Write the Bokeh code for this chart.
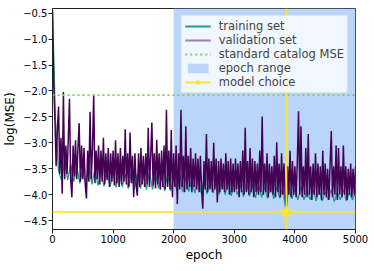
from bokeh.plotting import figure
from bokeh.models import Range1d, FixedTicker, Span, Legend, LegendItem
from bokeh.embed import file_html
from bokeh.resources import INLINE

# ---- data ----
val_epochs = list(range(0, 5001, 20))
val_logmse = [
    -0.45, -1.85, -2.55, -3.45, -2.75, -2.30, -3.60, -2.90, -3.98, -2.02,
    -3.70, -3.05, -3.60, -2.95, -2.15, -3.70, -4.05, -3.05, -3.65, -2.95,
    -3.70, -3.10, -2.62, -3.75, -3.05, -3.70, -3.10, -3.80, -4.07, -3.15,
    -3.75, -2.40, -3.70, -3.10, -2.07, -3.78, -3.15, -3.70, -3.05, -3.80,
    -3.15, -3.75, -2.90, -3.80, -3.20, -3.72, -3.10, -3.85, -3.20, -3.75,
    -3.15, -3.82, -2.95, -3.78, -3.20, -3.85, -3.10, -3.80, -3.25, -3.75,
    -2.74, -3.80, -3.20, -3.85, -2.80, -3.78, -3.25, -4.05, -3.20, -3.80,
    -4.02, -3.20, -3.85, -3.10, -3.80, -3.25, -3.85, -3.20, -3.80, -2.71,
    -3.85, -3.25, -2.61, -3.82, -3.20, -3.88, -2.94, -3.80, -3.20, -3.90,
    -3.15, -3.85, -3.05, -3.90, -2.36, -3.85, -3.15, -3.90, -2.75, -4.05,
    -3.20, -3.85, -3.05, -4.18, -3.20, -3.90, -2.36, -3.85, -3.25, -3.95,
    -2.68, -3.90, -3.25, -3.85, -3.10, -3.95, -3.30, -3.85, -3.20, -3.90,
    -3.30, -3.95, -3.25, -3.90, -4.27, -3.35, -3.90, -2.83, -3.95, -3.30,
    -3.90, -3.35, -3.95, -3.00, -3.90, -3.30, -4.15, -3.35, -3.95, -3.30,
    -3.90, -3.40, -3.95, -3.20, -3.90, -3.35, -4.00, -3.30, -3.95, -3.40,
    -3.95, -3.30, -3.90, -3.40, -4.05, -3.35, -3.95, -3.15, -4.00, -2.71,
    -3.95, -3.35, -4.00, -3.10, -3.95, -3.30, -4.05, -3.35, -3.95, -3.40,
    -4.00, -3.15, -3.95, -2.49, -4.00, -3.40, -3.95, -3.20, -4.05, -3.40,
    -3.95, -3.45, -4.00, -3.25, -4.05, -2.99, -3.95, -3.40, -4.05, -3.20,
    -4.00, -3.40, -4.05, -4.25, -3.45, -4.00, -3.15, -4.05, -3.35, -4.00,
    -3.45, -4.05, -3.35, -2.39, -4.00, -2.68, -4.05, -3.45, -4.00, -3.10,
    -4.05, -2.83, -4.00, -3.45, -4.10, -3.40, -4.00, -3.20, -4.05, -3.40,
    -4.00, -3.45, -4.10, -3.15, -4.00, -3.40, -4.05, -3.50, -4.10, -3.45,
    -2.77, -4.05, -3.45, -4.00, -3.05, -4.10, -3.10, -4.00, -3.45, -4.05,
    -3.05, -4.00, -3.45, -4.10, -3.50, -4.00, -3.40, -4.05, -3.50, -4.00,
    -3.45,
]

train_epochs = list(range(0, 5001, 50))
train_logmse = [
    -0.45, -2.60, -3.55, -3.72, -3.35, -3.72, -3.40, -3.75, -3.45, -3.78,
    -3.50, -3.80, -3.45, -3.80, -3.50, -3.82, -3.55, -3.84, -3.50, -3.85,
    -3.55, -3.86, -3.50, -3.85, -3.60, -3.88, -3.55, -3.90, -3.60, -3.88,
    -3.60, -3.90, -3.55, -3.90, -3.60, -3.88, -3.65, -3.92, -3.60, -3.93,
    -3.65, -3.93, -3.60, -3.95, -3.65, -3.94, -3.70, -3.97, -3.65, -3.96,
    -3.70, -3.99, -3.70, -3.97, -3.75, -4.00, -3.70, -4.00, -3.75, -4.02,
    -3.75, -4.00, -3.80, -4.04, -3.75, -4.03, -3.80, -4.06, -3.80, -4.05,
    -3.85, -4.07, -3.80, -4.08, -3.85, -4.07, -3.85, -4.30, -3.85, -4.08,
    -3.90, -4.10, -3.85, -4.10, -3.90, -4.10, -3.90, -4.12, -3.90, -4.12,
    -3.95, -4.10, -3.90, -4.13, -3.95, -4.10, -3.90, -4.12, -3.95, -4.10,
    -3.95,
]

catalog_mse_log = -2.08
epoch_range = [2000, 5000]
model_epoch = 3860
model_logmse = -4.33

x_min, x_max = 0, 5000
y_min, y_max = -4.67, -0.41
y_ticks = [-4.5, -4.0, -3.5, -3.0, -2.5, -2.0, -1.5, -1.0, -0.5]
x_ticks = [0, 1000, 2000, 3000, 4000, 5000]

FONT = "DejaVu Sans"
C_TRAIN = "#1f9e89"
C_VAL = "#440154"
C_VAL_LEG = "#a07faa"
C_CAT = "#7ad151"
C_RANGE = "#b9d5fa"
C_MODEL = "#fde725"
NAN = float("nan")

p = figure(width=370, height=264, output_backend="svg", toolbar_location=None,
           x_range=Range1d(x_min, x_max), y_range=Range1d(y_min, y_max),
           min_border_left=52, min_border_right=15, min_border_top=8,
           min_border_bottom=29)
p.xgrid.visible = False
p.ygrid.visible = False
p.outline_line_color = "#222222"
p.outline_line_width = 1
p.background_fill_color = "white"

r_range = p.quad(left=[epoch_range[0]], right=[epoch_range[1]],
                 bottom=[y_min], top=[y_max], fill_color=C_RANGE,
                 line_color=None)
p.line(train_epochs, train_logmse, line_color=C_TRAIN, line_width=1.3)
p.line(val_epochs, val_logmse, line_color=C_VAL, line_width=1.5)
p.line([x_min, x_max], [catalog_mse_log, catalog_mse_log],
       line_color=C_CAT, line_width=1.7, line_dash="2 3")

p.add_layout(Span(location=model_epoch, dimension="height",
                  line_color=C_MODEL, line_width=1.8))
p.add_layout(Span(location=model_logmse, dimension="width",
                  line_color=C_MODEL, line_width=1.8))
p.scatter([model_epoch], [model_logmse], marker="star", size=13,
          fill_color=C_MODEL, line_color=C_MODEL)

# legend-only renderers (NaN data, nothing drawn in the plot)
l_train = p.line([NAN], [NAN], line_color=C_TRAIN, line_width=2)
l_val = p.line([NAN], [NAN], line_color=C_VAL_LEG, line_width=2)
l_cat = p.line([NAN], [NAN], line_color=C_CAT, line_width=2, line_dash="2 3")
l_model = p.line([NAN], [NAN], line_color=C_MODEL, line_width=2)
l_star = p.scatter([NAN], [NAN], marker="star", size=12, fill_color=C_MODEL,
                   line_color=C_MODEL)

for ax in (p.xaxis[0], p.yaxis[0]):
    ax.major_label_text_font = FONT
    ax.major_label_text_font_size = "10px"
    ax.major_label_text_color = "black"
    ax.axis_label_text_font = FONT
    ax.axis_label_text_font_size = "12px"
    ax.axis_label_text_font_style = "normal"
    ax.axis_label_text_color = "black"
    ax.axis_line_color = "#222222"
    ax.major_tick_line_color = "#222222"
    ax.major_tick_out = 4
    ax.major_tick_in = 0
    ax.minor_tick_line_color = None
    ax.major_label_standoff = 1

p.xaxis.ticker = FixedTicker(ticks=x_ticks)
p.yaxis.ticker = FixedTicker(ticks=y_ticks)
p.yaxis.major_label_overrides = {t: ("\u2212%.1f" % abs(t)) for t in y_ticks}
p.xaxis.axis_label = "epoch"
p.yaxis.axis_label = "log(MSE)"
p.xaxis.axis_label_standoff = 2
p.yaxis.axis_label_standoff = 3

legend = Legend(items=[
    LegendItem(label="training set", renderers=[l_train]),
    LegendItem(label="validation set", renderers=[l_val]),
    LegendItem(label="standard catalog MSE", renderers=[l_cat]),
    LegendItem(label="epoch range", renderers=[r_range]),
    LegendItem(label="model choice", renderers=[l_model, l_star]),
], location="top_right")
legend.margin = 7
legend.padding = 3
legend.spacing = 0
legend.glyph_width = 26
legend.glyph_height = 12
legend.label_height = 12
legend.label_standoff = 8
legend.label_text_font = FONT
legend.label_text_font_size = "11.5px"
legend.label_text_line_height = 1.0
legend.background_fill_color = "white"
legend.background_fill_alpha = 0.8
legend.border_line_color = "#d0d0d0"
legend.border_line_width = 1
p.add_layout(legend, "center")

open("out.html", "w").write(file_html(p, INLINE))
